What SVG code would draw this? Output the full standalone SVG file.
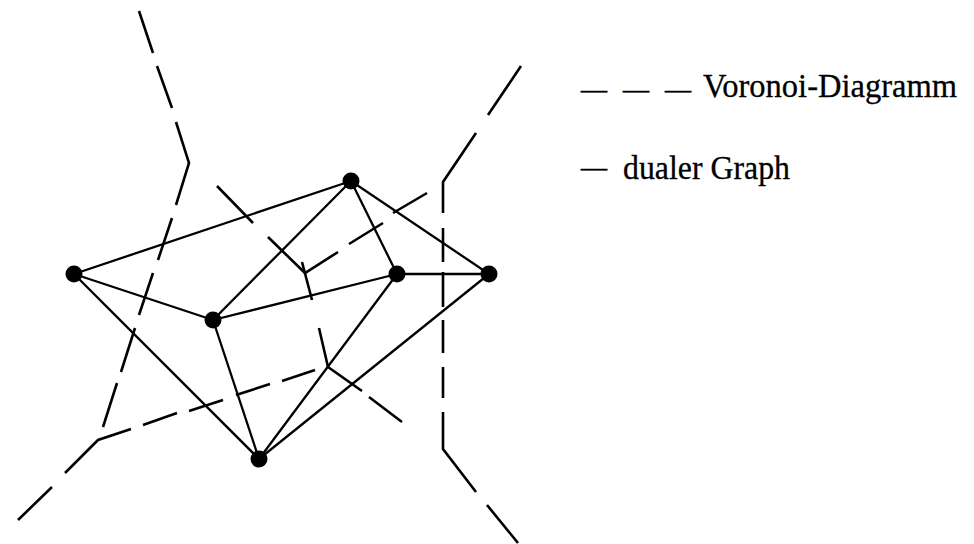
<svg xmlns="http://www.w3.org/2000/svg" width="974" height="544" viewBox="0 0 974 544">
  <style>
    .edge { stroke: #000; stroke-width: 2.3; fill: none; stroke-linecap: round; }
    .vor { stroke: #000; stroke-width: 2.6; fill: none; stroke-linecap: butt; stroke-linejoin: miter; }
    .site { fill: #000; }
    .lbl { font-family: "Liberation Serif", "Times New Roman", serif; font-size: 34px; fill: #000; stroke: #000; stroke-width: 0.3; }
    .key { font-family: "Liberation Serif", "Times New Roman", serif; font-size: 26px; fill: #000; stroke: #000; stroke-width: 0.6; }
  </style>
  <rect width="974" height="544" fill="#fff"/>

  <!-- dual graph edges and Voronoi edges -->
  <g id="connectors">
    <g id="dual-edges">
      <line class="edge" x1="74" y1="274" x2="351" y2="181"/>
      <line class="edge" x1="74" y1="274" x2="213" y2="320"/>
      <line class="edge" x1="74" y1="274" x2="259" y2="459"/>
      <line class="edge" x1="351" y1="181" x2="213" y2="320"/>
      <line class="edge" x1="351" y1="181" x2="397" y2="274"/>
      <line class="edge" x1="351" y1="181" x2="489" y2="274"/>
      <line class="edge" x1="213" y1="320" x2="397" y2="274"/>
      <line class="edge" x1="213" y1="320" x2="259" y2="459"/>
      <line class="edge" x1="397" y1="274" x2="489" y2="274"/>
      <line class="edge" x1="397" y1="274" x2="259" y2="459"/>
      <line class="edge" x1="489" y1="274" x2="259" y2="459"/>
    </g>
    <g id="voronoi-edges">
      <!-- left chain down to the lower-left vertex and its rays -->
      <path class="vor" d="M139,11 L153,53 M157,66 L172,108 M176,122 L189,163 L176,205 M172,218 L158,260 M153,273 L139,315 M135,328 L121,372 M117,383 L103,427"/>
      <path class="vor" d="M65,473 L98,440 L131,429 M52,487 L18,520"/>
      <path class="vor" d="M143,425 L177,413 M189,411 L223,400 M236,395 L270,384 M282,381 L315,370"/>
      <!-- lower inner vertex -->
      <path class="vor" d="M319,328 L328,367 L362,391 M369,397 L402,422"/>
      <!-- upper inner vertex -->
      <path class="vor" d="M302,262 L312,300"/>
      <path class="vor" d="M217,186 L253,223 M268,237 L305,273 L338,252 M349,244 L383,223 M393,213 L427,193"/>
      <!-- right vertex, vertical edge and rays -->
      <path class="vor" d="M488,115 L521,66 M476,133 L443,182 L443,213"/>
      <path class="vor" d="M443,228 L443,262 M443,272 L443,307 M443,320 L443,353 M443,367 L443,398 M443,412 L443,449 L476,492 M487,505 L518,543"/>
    </g>
  </g>

  <!-- sites -->
  <g id="site-a"><circle class="site" cx="74" cy="274" r="8.5"/></g>
  <g id="site-b"><circle class="site" cx="351" cy="181" r="8.5"/></g>
  <g id="site-c"><circle class="site" cx="213" cy="320" r="8.5"/></g>
  <g id="site-d"><circle class="site" cx="397" cy="274" r="8.5"/></g>
  <g id="site-e"><circle class="site" cx="489" cy="274" r="8.5"/></g>
  <g id="site-f"><circle class="site" cx="259" cy="459" r="8.5"/></g>

  <!-- legend -->
  <g id="legend-voronoi">
    <text class="key" y="98"><tspan x="581">—</tspan><tspan x="623">—</tspan><tspan x="665">—</tspan></text>
    <text class="lbl" x="703" y="97" textLength="254" lengthAdjust="spacingAndGlyphs">Voronoi-Diagramm</text>
  </g>
  <g id="legend-dual">
    <text class="key" x="581" y="176">—</text>
    <text class="lbl" x="623" y="179" textLength="167" lengthAdjust="spacingAndGlyphs">dualer Graph</text>
  </g>
</svg>
